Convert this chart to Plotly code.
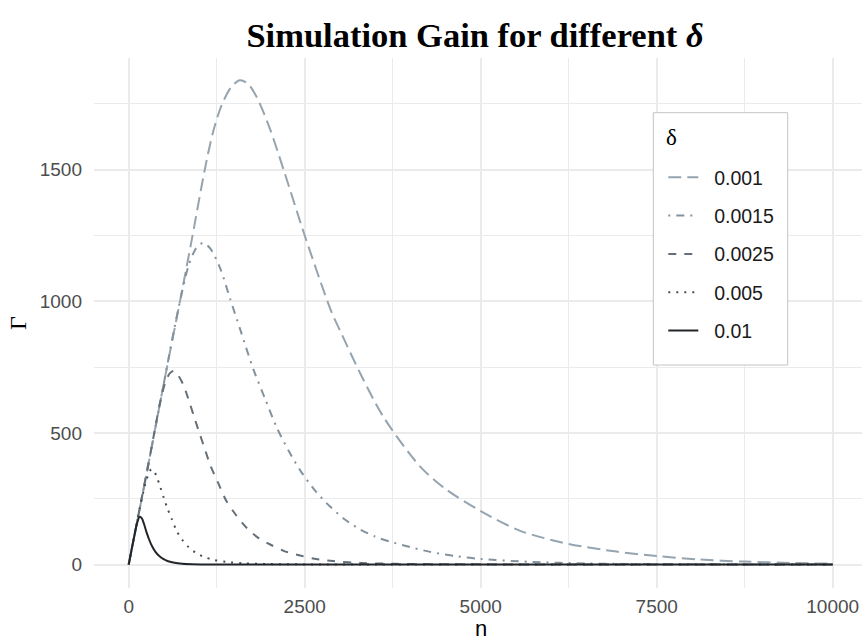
import plotly.graph_objects as go

# ---- data ----
deltas = ["0.001", "0.0015", "0.0025", "0.005", "0.01"]

n_0010 = [0, 250, 500, 750, 900, 1080, 1200, 1320, 1450, 1580, 1700, 1820, 2000, 2200, 2500,
          2880, 3000, 3300, 3620, 4140, 4520, 5000, 5560, 6250, 6930, 7500, 8100, 8750, 9400, 10000]
g_0010 = [0, 340, 690, 1030, 1240, 1500, 1645, 1745, 1812, 1840, 1825, 1775, 1660, 1500, 1250,
          960, 890, 720, 560, 372, 283, 203, 128, 78, 49, 32, 19, 11, 6, 3]

n_0015 = [0, 250, 500, 700, 850, 960, 1060, 1160, 1300, 1440, 1600, 1770, 1940, 2100, 2280, 2450,
          2650, 2860, 3070, 3290, 3500, 3710, 4000, 4280, 4650, 5000, 5700, 6500, 7500, 8500, 10000]
g_0015 = [0, 340, 690, 965, 1135, 1203, 1222, 1200, 1125, 1010, 880, 742, 628, 522, 428, 352,
          280, 220, 171, 133, 106, 87, 66, 48, 32, 21, 10, 4, 1.3, 0.4, 0]

n_0025 = [0, 150, 300, 450, 530, 590, 640, 700, 780, 870, 940, 1010, 1080, 1155, 1270, 1390, 1530,
          1680, 1840, 2010, 2200, 2390, 2620, 2900, 3300, 3800, 4500, 5500, 7000, 10000]
g_0025 = [0, 205, 410, 620, 700, 728, 735, 720, 680, 610, 552, 495, 440, 380, 310, 240, 186,
          138, 101, 76, 52, 37, 23, 13, 6, 2.5, 1, 0.3, 0.05, 0]

n_0050 = [0, 80, 160, 230, 280, 320, 360, 400, 450, 500, 550, 610, 680, 760, 850, 950, 1060,
          1200, 1400, 1650, 2000, 2600, 3500, 5000, 10000]
g_0050 = [0, 110, 218, 300, 342, 362, 355, 332, 293, 252, 213, 174, 128, 94, 66, 45, 30,
          18, 9.5, 4, 1.5, 0.3, 0, 0, 0]

n_0100 = [0, 40, 80, 120, 155, 185, 215, 250, 290, 330, 380, 430, 490, 560, 650, 760, 900,
          1100, 1400, 2000, 3000, 10000]
g_0100 = [0, 55, 109, 158, 181, 176, 156, 125, 95, 70, 48, 33, 21, 12.5, 6.5, 3, 1.2,
          0.4, 0.1, 0, 0, 0]

x_ticks = [0, 2500, 5000, 7500, 10000]
y_ticks = [0, 500, 1000, 1500]

series_n = [n_0010, n_0015, n_0025, n_0050, n_0100]
series_g = [g_0010, g_0015, g_0025, g_0050, g_0100]

# ---- styles ----
colors = ["#95a4af", "#83929d", "#646f79", "#464e55", "#22262a"]
dashes = ["13px,6px", "2px,6px,8px,6px", "8px,8px", "2px,6px", "solid"]
widths = [2.0, 2.0, 2.0, 2.0, 2.0]

W, H = 862, 641
ML, MR, MT, MB = 94, 0, 58, 53
PW, PH = W - ML - MR, H - MT - MB


def px_x(p):
    return (p - ML) / PW


def px_y(p):
    return 1 - (p - MT) / PH


fig = go.Figure()
for name, xs, ys, c, d, w in zip(deltas, series_n, series_g, colors, dashes, widths):
    fig.add_trace(go.Scatter(
        x=xs, y=ys, mode="lines", name="\u00a0\u00a0" + name, legendgroup=name,
        line=dict(color=c, width=w, dash=d, shape="spline", smoothing=0.8),
        hoverinfo="skip",
    ))

grid = "#ebebeb"
tickfont = dict(family="Liberation Sans, Arial, sans-serif", size=19, color="#4d4d4d")

fig.update_layout(
    width=W, height=H,
    margin=dict(l=ML, r=MR, t=MT, b=MB),
    paper_bgcolor="white", plot_bgcolor="white",
    showlegend=True,
    title=dict(
        text="<b>Simulation Gain for different <i>δ</i></b>",
        font=dict(family="Liberation Serif, Times New Roman, serif", size=34.5, color="black"),
        x=475 / W, xref="container", xanchor="center",
        y=1 - 35 / H, yref="container", yanchor="middle",
    ),
    xaxis=dict(
        range=[-493, 10416], tickmode="array", tickvals=x_ticks,
        ticktext=[str(v) for v in x_ticks],
        showgrid=True, gridcolor=grid, gridwidth=1.6,
        minor=dict(tick0=0, dtick=1250, showgrid=True, gridcolor=grid, gridwidth=0.9),
        zeroline=False, showline=False, ticks="", tickfont=tickfont,
        ticklabelstandoff=5,
    ),
    yaxis=dict(
        range=[-89.3, 1924.4], tickmode="array", tickvals=y_ticks,
        ticktext=[str(v) for v in y_ticks],
        showgrid=True, gridcolor=grid, gridwidth=1.6,
        minor=dict(tick0=0, dtick=250, showgrid=True, gridcolor=grid, gridwidth=0.9),
        zeroline=False, showline=False, ticks="", tickfont=tickfont,
        ticklabelstandoff=11,
    ),
    legend=dict(
        x=px_x(653.3), y=px_y(158), xanchor="left", yanchor="top",
        bgcolor="rgba(0,0,0,0)", borderwidth=0,
        font=dict(family="Liberation Sans, Arial, sans-serif", size=19.5, color="#1a1a1a"),
        tracegroupgap=10, indentation=10,
    ),
    shapes=[
        dict(type="rect", xref="paper", yref="paper", layer="above",
             x0=px_x(653.3), x1=px_x(787.7), y0=px_y(365), y1=px_y(112.7),
             fillcolor="white", line=dict(color="#c4c4c4", width=1)),
    ],
    annotations=[
        dict(text="δ", xref="paper", yref="paper", x=px_x(671.5), y=px_y(137),
             xanchor="center", yanchor="middle", showarrow=False,
             font=dict(family="Liberation Serif, serif", size=23, color="black")),
        dict(text="n", xref="paper", yref="paper", x=px_x(481), y=px_y(628),
             xanchor="center", yanchor="middle", showarrow=False,
             font=dict(family="Liberation Sans, Arial, sans-serif", size=22, color="black")),
        dict(text="Γ", xref="paper", yref="paper", x=px_x(18), y=0.5,
             xanchor="center", yanchor="middle", showarrow=False, textangle=-90,
             font=dict(family="Liberation Serif, serif", size=24, color="black")),
    ],
)

fig.write_html("out.html")
